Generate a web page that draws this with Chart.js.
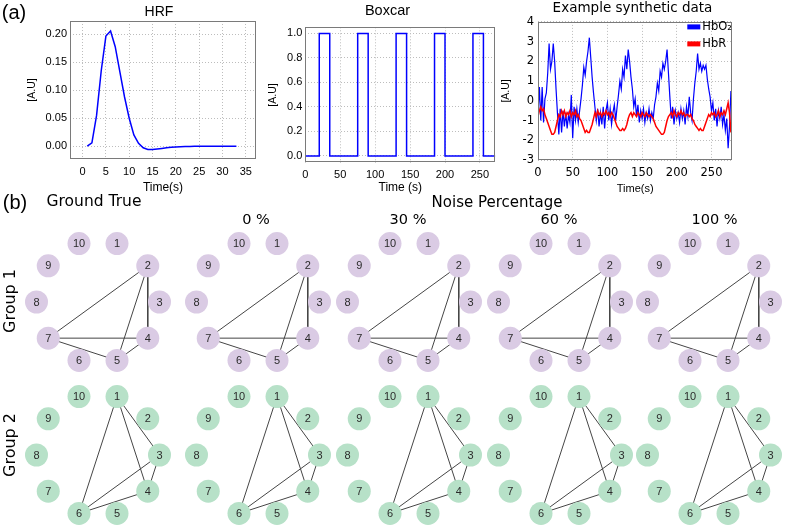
<!DOCTYPE html>
<html>
<head>
<meta charset="utf-8">
<script src="https://cdn.jsdelivr.net/npm/chart.js@4.4.1/dist/chart.umd.min.js"></script>
<style>
  body { margin: 0; background: #fff; width: 785px; height: 529px; overflow: hidden; position: relative; }
  canvas { position: absolute; }
  .lbl { position: absolute; white-space: nowrap; line-height: 1; transform: translate(-50%, -50%); color: #000; font-family: "DejaVu Sans"; }
</style>
</head>
<body>
<canvas id="hrf" width="318" height="198" style="left:0px;top:0px"></canvas>
<canvas id="box" width="251" height="198" style="left:262px;top:0px"></canvas>
<canvas id="synth" width="275" height="198" style="left:495px;top:0px"></canvas>

<div class="lbl" style="left:14px;top:12px;font:20px 'Liberation Sans'">(a)</div>
<div class="lbl" style="left:15px;top:202px;font:20px 'Liberation Sans'">(b)</div>
<div class="lbl" style="left:94px;top:202px;font-size:15.5px">Ground True</div>
<div class="lbl" style="left:497px;top:202px;font-size:15px">Noise Percentage</div>
<div class="lbl" style="left:10px;top:301px;font-size:16px;transform:translate(-50%,-50%) rotate(-90deg)">Group 1</div>
<div class="lbl" style="left:10px;top:445px;font-size:16px;transform:translate(-50%,-50%) rotate(-90deg)">Group 2</div>

<script>
// ---------------- (a) data ----------------
const hrfTime = [1, 2, 3, 4, 5, 6, 7, 8, 9, 10, 11, 12, 13, 14, 15, 16, 17, 18, 19, 20, 21, 22, 23, 24, 25, 26, 27, 28, 29, 30, 31, 32, 33];
const hrfValue = [0.000, 0.006, 0.055, 0.135, 0.197, 0.206, 0.178, 0.133, 0.088, 0.050, 0.020, 0.005, -0.003, -0.006, -0.006, -0.005,
  -0.004, -0.003, -0.002, -0.0015, -0.001, -0.0007, -0.0005, -0.0003, -0.0002, -0.0001, 0, 0, 0, 0, 0, 0, 0];
const hrfXTicks = [0, 5, 10, 15, 20, 25, 30, 35];
const hrfYTicks = [0, 0.05, 0.10, 0.15, 0.20];

const boxTime = [0, 20, 20, 35, 35, 75, 75, 90, 90, 130, 130, 145, 145, 185, 185, 200, 200, 240, 240, 255, 255, 272];
const boxValue = [0, 0, 1, 1, 0, 0, 1, 1, 0, 0, 1, 1, 0, 0, 1, 1, 0, 0, 1, 1, 0, 0];
const boxXTicks = [0, 50, 100, 150, 200, 250];
const boxYTicks = [0, 0.2, 0.4, 0.6, 0.8, 1.0];

// synthetic data, one sample every 2 s
const SYNTH_STEP = 2;
const hbo2 = [
  -0.6, 0.7, -1.0, 0.7, -1.1, 0.1, 0.4, 1.4, 2.9, 1.6, 2.0, 2.9, 2.0, 0.6, -0.6, -1.7, -0.4, -1.6, -0.5, -1.3,
  -0.6, -1.4, -0.7, -1.1, 0.3, -1.9, -0.3, -1.0, -0.4, -1.1, -0.5, 0.1, 0.8, 1.7, 1.3, 2.0, 2.5, 3.2, 2.2, 1.2,
  0.4, -0.3, -1.0, -0.4, -1.3, -0.6, -1.2, -0.3, -1.4, -0.5, -0.1, -1.0, -0.4, -1.2, -0.6, -0.2, -1.0, -0.3, 0.3, 1.0,
  0.6, 1.6, 1.2, 2.3, 1.6, 2.6, 2.0, 1.2, 0.6, -0.3, 0.1, -0.8, -0.2, -1.1, -0.5, -0.9, -0.4, -1.1, -0.6, -0.9,
  -0.4, -1.0, -0.6, -0.9, -0.2, 0.2, 0.9, 0.5, 1.5, 1.2, 1.9, 1.6, 2.0, 2.6, 1.4, 0.2, -0.9, -0.3, -1.2, -0.5,
  -0.9, -0.6, -1.1, -0.4, -0.9, -0.5, -1.2, -0.3, -0.8, 0.2, -0.6, -1.0, 0.1, 0.9, 1.5, 2.4, 1.6, 1.9, 1.5, 1.8,
  1.6, 1.8, 1.1, 0.6, 0.2, -0.5, -0.1, -1.0, -0.4, -1.3, -0.5, -0.9, -0.3, -1.2, -0.7, -1.5, -0.9, -2.4, -1.3, 0.5
];
const hbr = [
  -0.8, -0.5, -0.3, -0.5, -0.4, -0.7, -0.9, -1.1, -1.3, -1.5, -1.7, -1.7, -1.6, -1.3, -1.0, -0.7, -0.8, -0.5, -0.7, -0.5,
  -0.8, -0.6, -0.7, -0.5, -0.8, -0.6, -0.7, -0.5, -0.8, -0.7, -0.9, -1.0, -1.2, -1.4, -1.6, -1.5, -1.6, -1.6, -1.4, -1.2,
  -0.9, -0.6, -0.8, -0.5, -0.7, -0.6, -0.8, -0.6, -0.7, -0.5, -0.7, -0.6, -0.8, -0.6, -0.7, -0.9, -1.1, -1.3, -1.4, -1.5,
  -1.5, -1.4, -1.5, -1.4, -1.2, -0.9, -0.7, -0.6, -0.8, -0.6, -0.7, -0.8, -0.6, -0.7, -0.8, -0.6, -0.7, -0.8, -0.6, -0.7,
  -0.8, -0.7, -0.8, -0.9, -1.1, -1.3, -1.4, -1.5, -1.6, -1.7, -1.7, -1.6, -1.3, -1.0, -0.8, -0.7, -0.6, -0.8, -0.5, -0.7,
  -0.8, -0.6, -0.7, -0.5, -0.7, -0.6, -0.8, -0.7, -0.7, -0.8, -0.7, -0.9, -1.0, -1.2, -1.3, -1.4, -1.5, -1.4, -1.5, -1.5,
  -1.3, -1.1, -0.9, -0.7, -0.8, -0.6, -0.7, -0.6, -0.8, -0.7, -0.5, -0.8, -0.6, -0.7, -0.5, -0.7, -0.4, -0.1, -0.6, -1.6
];
const synthXTicks = [0, 50, 100, 150, 200, 250];
const synthYTicks = [-3, -2, -1, 0, 1, 2, 3, 4];

// ---------------- (b) data ----------------
const nodeIds = [1, 2, 3, 4, 5, 6, 7, 8, 9, 10];
const columnTitles = ['Ground True', '0 %', '30 %', '60 %', '100 %'];
const group1Edges = [[2, 7], [2, 5], [2, 4], [7, 4], [7, 5], [4, 5]];
const group2Edges = [[1, 6], [1, 4], [1, 3], [3, 4], [3, 6], [4, 6]];
// every noise level recovers the same edges as the ground truth
const group1Panels = [group1Edges, group1Edges, group1Edges, group1Edges, group1Edges];
const group2Panels = [group2Edges, group2Edges, group2Edges, group2Edges, group2Edges];

// ---------------- helpers ----------------
const framePlugin = {
  id: 'frame',
  afterDatasetsDraw(chart, args, opts) {
    const { ctx, chartArea: a } = chart;
    ctx.save();
    ctx.strokeStyle = opts.color || '#7a7a7a';
    ctx.lineWidth = 1;
    ctx.strokeRect(Math.round(a.left) + 0.5, Math.round(a.top) + 0.5, Math.round(a.right - a.left) - 1, Math.round(a.bottom - a.top) - 1);
    ctx.restore();
  }
};

const legendPlugin = {
  id: 'innerLegend',
  afterDatasetsDraw(chart) {
    const { ctx, chartArea: a } = chart;
    ctx.save();
    ctx.font = '11.5px "DejaVu Sans"';
    ctx.textBaseline = 'middle';
    chart.data.datasets.forEach((ds, i) => {
      const y = a.top + 5 + i * 17;
      ctx.fillStyle = ds.borderColor;
      ctx.fillRect(a.right - 45, y - 2.5, 13, 5);
      ctx.fillStyle = '#000';
      ctx.fillText(ds.label, a.right - 30, y);
    });
    ctx.restore();
  }
};

const pts = (xs, ys) => xs.map((x, i) => ({ x, y: ys[i] }));
const fixedTicks = arr => scale => { scale.ticks = arr.map(v => ({ value: v })); };

function axis(opts) {
  return {
    type: 'linear',
    min: opts.min, max: opts.max,
    afterBuildTicks: fixedTicks(opts.ticks),
    afterFit: opts.fit,
    grid: { color: '#bdbdbd', lineWidth: 1, drawTicks: false },
    border: { display: false, dash: [1, 2] },
    ticks: { padding: opts.tickPad, color: '#000', font: opts.tickFont, callback: opts.fmt, maxRotation: 0 },
    title: { display: true, text: opts.title, color: '#000', font: opts.titleFont, padding: opts.titlePad }
  };
}

// empty right-hand axis that just reserves space, so the chart title can sit over the whole panel
function spacer(w) {
  return {
    type: 'linear', position: 'right', display: true,
    grid: { display: false }, border: { display: false }, ticks: { display: false },
    afterFit: s => { s.width = w; }
  };
}

function lineChart(id, datasets, o) {
  return new Chart(document.getElementById(id), {
    type: 'scatter',
    data: { datasets },
    options: {
      responsive: false,
      animation: false,
      layout: { padding: 0, autoPadding: false },
      plugins: {
        legend: { display: false },
        tooltip: { enabled: false },
        title: { display: true, text: o.title, color: '#000', font: o.titleFont, padding: o.titlePad }
      },
      scales: { x: o.x, y: o.y, pad: spacer(o.padRight) }
    },
    plugins: o.plugins
  });
}

const arialTick = { family: 'Liberation Sans', size: 11 };
const dejaTick = { family: 'DejaVu Sans', size: 11.5 };

// ---------------- HRF ----------------
lineChart('hrf', [{
  data: pts(hrfTime, hrfValue), showLine: true, borderColor: '#0000ff', borderWidth: 1.5, pointRadius: 0
}], {
  padRight: 62,
  title: 'HRF', titleFont: { family: 'Liberation Sans', size: 14, weight: 'normal' }, titlePad: { top: 3.6, bottom: 0.6 },
  x: axis({ min: -2.7, max: 37.2, ticks: hrfXTicks, fit: s => { s.height = 39; }, tickPad: 6, tickFont: arialTick,
    fmt: v => String(v), title: 'Time(s)', titleFont: { family: 'Liberation Sans', size: 12 }, titlePad: { top: 0, bottom: 2.8 } }),
  y: axis({ min: -0.023, max: 0.224, ticks: hrfYTicks, fit: s => { s.width = 70; }, tickPad: 3, tickFont: arialTick,
    fmt: v => v.toFixed(2), title: '[A.U]', titleFont: { family: 'Liberation Sans', size: 10.5 }, titlePad: { top: 25.5, bottom: 0 } }),
  plugins: [framePlugin]
});

// ---------------- Boxcar ----------------
lineChart('box', [{
  data: pts(boxTime, boxValue), showLine: true, borderColor: '#0000ff', borderWidth: 1.5, pointRadius: 0
}], {
  padRight: 17.7,
  title: 'Boxcar', titleFont: { family: 'Liberation Sans', size: 14.5, weight: 'normal' }, titlePad: { top: 1.8, bottom: 8.1 },
  x: axis({ min: 0, max: 272, ticks: boxXTicks, fit: s => { s.height = 35.3; }, tickPad: 6, tickFont: arialTick,
    fmt: v => String(v), title: 'Time (s)', titleFont: { family: 'Liberation Sans', size: 12 }, titlePad: { top: 0, bottom: 2.8 } }),
  y: axis({ min: -0.055, max: 1.05, ticks: boxYTicks, fit: s => { s.width = 43.3; }, tickPad: 3, tickFont: arialTick,
    fmt: v => v.toFixed(1), title: '[A.U]', titleFont: { family: 'Liberation Sans', size: 10.5 }, titlePad: { top: 4.5, bottom: 0 } }),
  plugins: [framePlugin]
});

// ---------------- Example synthetic data ----------------
const synthTime = hbo2.map((_, i) => i * SYNTH_STEP);
lineChart('synth', [
  { label: 'HbO\u2082', data: pts(synthTime, hbo2), showLine: true, borderColor: '#0000ff', borderWidth: 1.2, pointRadius: 0, order: 1 },
  { label: 'HbR', data: pts(synthTime, hbr), showLine: true, borderColor: '#ff0000', borderWidth: 1.5, pointRadius: 0, order: 0 }
], {
  padRight: 37.7,
  title: 'Example synthetic data', titleFont: { family: 'DejaVu Sans', size: 13.5, weight: 'normal' }, titlePad: { top: 0.5, bottom: 5.2 },
  x: axis({ min: 0, max: 280, ticks: synthXTicks, fit: s => { s.height = 38; }, tickPad: 6, tickFont: dejaTick,
    fmt: v => String(v), title: 'Time(s)', titleFont: { family: 'Liberation Sans', size: 11 }, titlePad: { top: 0, bottom: 2.8 } }),
  y: axis({ min: -3, max: 4, ticks: synthYTicks, fit: s => { s.width = 43; }, tickPad: 4, tickFont: dejaTick,
    fmt: v => String(v), title: '[A.U]', titleFont: { family: 'Liberation Sans', size: 10.5 }, titlePad: { top: 4.8, bottom: 0 } }),
  plugins: [framePlugin, legendPlugin]
});

// ---------------- (b) network panels ----------------
const PANEL_W = 160, PANEL_H = 150, RING_PX = 61.5, NODE_R = 11.5;
const colCenters = [97.5, 257.5, 408.5, 560, 709];
const rowCenters = [301.5, 455];
const rowFill = ['#dacbe4', '#b7e1c8'];

function nodeXY(id) {
  const a = (72 - 36 * (id - 1)) * Math.PI / 180;
  return { x: Math.cos(a), y: Math.sin(a) };
}

const nodeLabelPlugin = {
  id: 'nodeLabels',
  afterDatasetsDraw(chart) {
    const { ctx } = chart;
    const meta = chart.getDatasetMeta(0);
    ctx.save();
    ctx.font = '11px "Liberation Sans"';
    ctx.fillStyle = '#2b2b2b';
    ctx.textAlign = 'center';
    ctx.textBaseline = 'middle';
    meta.data.forEach((el, i) => ctx.fillText(String(chart.data.datasets[0].data[i].id), el.x, el.y + 0.5));
    ctx.restore();
  }
};

function networkChart(cx, cy, edges, fill) {
  const cv = document.createElement('canvas');
  cv.width = PANEL_W; cv.height = PANEL_H;
  cv.style.left = (cx - PANEL_W / 2) + 'px';
  cv.style.top = (cy - PANEL_H / 2) + 'px';
  document.body.appendChild(cv);
  const nodes = nodeIds.map(id => ({ ...nodeXY(id), id }));
  const edgeSets = edges.map(([a, b]) => ({
    data: [nodeXY(a), nodeXY(b)], showLine: true, borderColor: '#454545', borderWidth: 1, pointRadius: 0, order: 1
  }));
  const hx = PANEL_W / 2 / RING_PX, hy = PANEL_H / 2 / RING_PX;
  new Chart(cv, {
    type: 'scatter',
    data: { datasets: [{ data: nodes, pointRadius: NODE_R, pointBackgroundColor: fill, pointBorderWidth: 0, order: 0 }, ...edgeSets] },
    options: {
      responsive: false, animation: false,
      layout: { padding: 0, autoPadding: false },
      scales: { x: { display: false, min: -hx, max: hx }, y: { display: false, min: -hy, max: hy } },
      plugins: { legend: { display: false }, tooltip: { enabled: false } }
    },
    plugins: [nodeLabelPlugin]
  });
}

[group1Panels, group2Panels].forEach((panels, r) => {
  panels.forEach((edges, c) => networkChart(colCenters[c], rowCenters[r], edges, rowFill[r]));
});

// column headings over the noise-level panels
columnTitles.slice(1).forEach((t, i) => {
  const d = document.createElement('div');
  d.className = 'lbl';
  d.style.left = [256, 408, 559, 714.5][i] + 'px';
  d.style.top = '219px';
  d.style.fontSize = '14.5px';
  d.textContent = t;
  document.body.appendChild(d);
});
</script>
</body>
</html>
